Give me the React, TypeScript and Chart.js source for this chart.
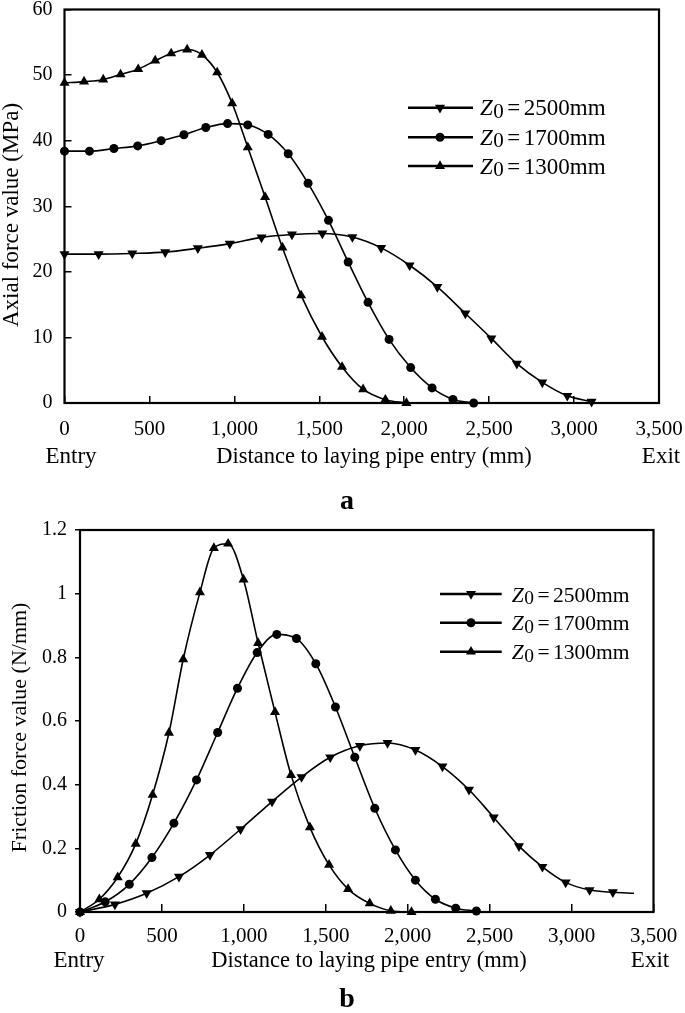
import React, { useEffect, useRef } from "react";
import { Chart, registerables } from "chart.js";

Chart.register(...registerables);

// ---------- shared axis data ----------
const xTicks = [0, 500, 1000, 1500, 2000, 2500, 3000, 3500];
const xTickLabels = ["0", "500", "1,000", "1,500", "2,000", "2,500", "3,000", "3,500"];
const xTitle = "Distance to laying pipe entry (mm)";
const xStartLabel = "Entry";
const xEndLabel = "Exit";
const seriesNames = ["2500mm", "1700mm", "1300mm"];

// ---------- panel a: axial force ----------
const yTicksA = [0, 10, 20, 30, 40, 50, 60];
const yTickLabelsA = ["0", "10", "20", "30", "40", "50", "60"];
const yTitleA = "Axial force value (MPa)";
const panelLabelA = "a";

const aX2500 = [0, 201, 399, 593, 785, 973, 1160, 1339, 1518, 1695, 1864, 2032, 2195, 2360, 2513, 2663, 2813, 2960, 3103];
const aY2500 = [22.7, 22.7, 22.8, 23.0, 23.6, 24.3, 25.25, 25.7, 25.85, 25.3, 23.65, 21.0, 17.7, 13.65, 9.85, 6.0, 3.15, 1.1, 0.2];

const aX1700 = [0, 147, 291, 431, 569, 703, 832, 960, 1079, 1199, 1317, 1434, 1554, 1670, 1787, 1911, 2038, 2164, 2287, 2409];
const aY1700 = [38.4, 38.4, 38.8, 39.2, 40.0, 40.9, 42.0, 42.6, 42.4, 40.95, 38.0, 33.5, 27.85, 21.5, 15.35, 9.7, 5.4, 2.3, 0.55, 0];

const aX1300 = [0, 115, 228, 330, 434, 534, 628, 722, 809, 899, 987, 1079, 1181, 1283, 1393, 1516, 1634, 1758, 1889, 2013];
const aY1300 = [48.8, 49.0, 49.3, 50.1, 50.9, 52.2, 53.3, 53.9, 53.1, 50.4, 45.7, 39.0, 31.4, 23.7, 16.4, 10.1, 5.5, 2.1, 0.5, 0];

// ---------- panel b: friction force ----------
const yTicksB = [0, 0.2, 0.4, 0.6, 0.8, 1, 1.2];
const yTickLabelsB = ["0", "0.2", "0.4", "0.6", "0.8", "1", "1.2"];
const yTitleB = "Friction force value (N/mm)";
const panelLabelB = "b";

const bX2500 = [0, 213, 407, 604, 793, 980, 1172, 1352, 1527, 1708, 1877, 2047, 2212, 2374, 2525, 2679, 2822, 2964, 3110, 3252, 3381];
const bY2500 = [0, 0.024, 0.059, 0.111, 0.179, 0.26, 0.347, 0.424, 0.486, 0.522, 0.531, 0.509, 0.457, 0.384, 0.297, 0.207, 0.142, 0.093, 0.069, 0.062, 0.059];

const bX1700 = [0, 154, 301, 439, 573, 711, 840, 961, 1081, 1201, 1321, 1439, 1559, 1677, 1799, 1925, 2047, 2169, 2293, 2419];
const bY1700 = [0, 0.032, 0.087, 0.171, 0.279, 0.415, 0.564, 0.703, 0.815, 0.872, 0.859, 0.78, 0.644, 0.486, 0.326, 0.195, 0.10, 0.04, 0.012, 0.003];

const bX1300 = [0, 118, 230, 340, 443, 543, 630, 732, 817, 904, 998, 1087, 1190, 1288, 1403, 1520, 1636, 1768, 1897, 2023];
const bY1300 = [0, 0.04, 0.109, 0.214, 0.368, 0.563, 0.794, 1.004, 1.143, 1.157, 1.044, 0.845, 0.628, 0.430, 0.266, 0.148, 0.072, 0.027, 0.004, 0];

const FONT = '"Liberation Serif", "Times New Roman", serif';
const INK = "#000";

type Mk = { style: string; rot: number; r: number };
const markers: Mk[] = [
  { style: "triangle", rot: 180, r: 5.8 },
  { style: "circle", rot: 0, r: 4.5 },
  { style: "triangle", rot: 0, r: 5.8 },
];

function drawMarker(ctx: CanvasRenderingContext2D, mk: Mk, x: number, y: number) {
  ctx.beginPath();
  if (mk.style === "circle") {
    ctx.arc(x, y, mk.r, 0, Math.PI * 2);
  } else {
    let rad = (mk.rot * Math.PI) / 180;
    for (let k = 0; k < 3; k++) {
      const px = x + Math.sin(rad) * mk.r;
      const py = y - Math.cos(rad) * mk.r;
      if (k === 0) ctx.moveTo(px, py);
      else ctx.lineTo(px, py);
      rad += (2 * Math.PI) / 3;
    }
    ctx.closePath();
  }
  ctx.fill();
}

function labelFor(values: number[], labels: string[], v: number) {
  const i = values.findIndex((t) => Math.abs(t - v) < 1e-6);
  return i >= 0 ? labels[i] : "";
}

type PanelSpec = {
  width: number;
  height: number;
  area: { left: number; top: number; right: number; bottom: number };
  yMax: number;
  yTicks: number[];
  yTickLabels: string[];
  yTickLen: number;
  yTickPad: number;
  xTickLen: number;
  xTickPad: number;
  series: { x: number[]; y: number[]; lastNoMarker?: boolean }[];
  yTitle: string;
  yTitleSize: number;
  yTitlePos: [number, number];
  rowBaseline: number;
  entryX: number;
  titleX: number;
  exitX: number;
  panelLabel: string;
  panelPos: [number, number];
  legend: { lineX1: number; lineX2: number; markX: number; textX: number; rows: number[]; size: number };
};

function buildChart(canvas: HTMLCanvasElement, spec: PanelSpec) {
  const datasets = spec.series.map((s, si) => {
    const mk = markers[si];
    return {
      label: seriesNames[si],
      data: s.x.map((x, i) => ({ x, y: s.y[i] })),
      borderColor: INK,
      backgroundColor: INK,
      borderWidth: 1.6,
      pointStyle: mk.style,
      pointRotation: mk.rot,
      pointRadius: s.x.map((_, i) => (s.lastNoMarker && i === s.x.length - 1 ? 0 : mk.r)),
      pointBorderWidth: 0,
      pointBackgroundColor: INK,
      cubicInterpolationMode: "monotone" as const,
      clip: false as any,
      fill: false,
    };
  });

  const a = spec.area;
  const annot = {
    id: "annot",
    beforeDatasetsDraw(chart: any) {
      const ctx = chart.ctx as CanvasRenderingContext2D;
      const ca = chart.chartArea;
      ctx.save();
      ctx.strokeStyle = INK;
      ctx.lineWidth = 2.2;
      ctx.strokeRect(ca.left, ca.top, ca.right - ca.left, ca.bottom - ca.top);
      ctx.restore();
    },
    afterDraw(chart: any) {
      const ctx = chart.ctx as CanvasRenderingContext2D;
      ctx.save();
      ctx.fillStyle = INK;
      ctx.strokeStyle = INK;
      // y title
      ctx.save();
      ctx.translate(spec.yTitlePos[0], spec.yTitlePos[1]);
      ctx.rotate(-Math.PI / 2);
      ctx.font = `${spec.yTitleSize}px ${FONT}`;
      ctx.textAlign = "center";
      ctx.textBaseline = "middle";
      ctx.fillText(spec.yTitle, 0, 0);
      ctx.restore();
      // bottom row
      ctx.textBaseline = "alphabetic";
      ctx.textAlign = "center";
      ctx.font = `23px ${FONT}`;
      ctx.fillText(xStartLabel, spec.entryX, spec.rowBaseline);
      ctx.fillText(xEndLabel, spec.exitX, spec.rowBaseline);
      ctx.font = `22.5px ${FONT}`;
      ctx.fillText(xTitle, spec.titleX, spec.rowBaseline);
      // panel label
      ctx.font = `bold 28px ${FONT}`;
      ctx.fillText(spec.panelLabel, spec.panelPos[0], spec.panelPos[1]);
      // legend
      const L = spec.legend;
      seriesNames.forEach((name, i) => {
        const y = L.rows[i];
        ctx.lineWidth = 2.6;
        ctx.beginPath();
        ctx.moveTo(L.lineX1, y);
        ctx.lineTo(L.lineX2, y);
        ctx.stroke();
        drawMarker(ctx, markers[i], L.markX, y);
        ctx.textAlign = "left";
        const base = y + 7.5;
        let x = L.textX;
        ctx.font = `italic ${L.size}px ${FONT}`;
        ctx.fillText("Z", x, base);
        x += ctx.measureText("Z").width + 0.5;
        ctx.font = `${L.size - 2}px ${FONT}`;
        ctx.fillText("0", x, base + 2.5);
        x += ctx.measureText("0").width + 3.5;
        ctx.font = `${L.size}px ${FONT}`;
        ctx.fillText("=", x, base);
        x += ctx.measureText("=").width + 3.5;
        ctx.fillText(name, x, base);
      });
      ctx.restore();
    },
  };

  return new Chart(canvas, {
    type: "line",
    data: { datasets: datasets as any },
    plugins: [annot as any],
    options: {
      responsive: false,
      animation: false,
      devicePixelRatio: 1,
      layout: { padding: { left: 0, top: a.top, right: spec.width - a.right, bottom: 0 } },
      plugins: { legend: { display: false }, tooltip: { enabled: false } },
      events: [],
      scales: {
        x: {
          type: "linear",
          min: 0,
          max: 3500,
          afterBuildTicks: (s: any) => {
            s.ticks = xTicks.map((v) => ({ value: v }));
          },
          afterFit: (s: any) => {
            s.height = spec.height - a.bottom;
            s.paddingLeft = 0;
            s.paddingRight = 0;
          },
          ticks: {
            callback: (v: any) => labelFor(xTicks, xTickLabels, Number(v)),
            font: { family: FONT, size: 21 },
            color: INK,
            padding: spec.xTickPad,
            maxRotation: 0,
            minRotation: 0,
            autoSkip: false,
          },
          grid: { drawOnChartArea: false, drawTicks: true, tickLength: spec.xTickLen, color: INK, lineWidth: 1.5 },
          border: { display: false },
        },
        y: {
          type: "linear",
          min: 0,
          max: spec.yMax,
          afterBuildTicks: (s: any) => {
            s.ticks = spec.yTicks.map((v) => ({ value: v }));
          },
          afterFit: (s: any) => {
            s.width = a.left;
            s.paddingTop = 0;
            s.paddingBottom = 0;
          },
          ticks: {
            callback: (v: any) => labelFor(spec.yTicks, spec.yTickLabels, Number(v)),
            font: { family: FONT, size: 20 },
            color: INK,
            padding: spec.yTickPad,
            autoSkip: false,
          },
          grid: { drawOnChartArea: false, drawTicks: true, tickLength: spec.yTickLen, color: INK, lineWidth: 1.5 },
          border: { display: false },
        },
      },
    } as any,
  });
}

const specA: PanelSpec = {
  width: 685,
  height: 520,
  area: { left: 64.5, top: 9.5, right: 659, bottom: 403 },
  yMax: 60,
  yTicks: yTicksA,
  yTickLabels: yTickLabelsA,
  yTickLen: -7,
  yTickPad: 19,
  xTickLen: -7,
  xTickPad: 21,
  series: [
    { x: aX2500, y: aY2500 },
    { x: aX1700, y: aY1700 },
    { x: aX1300, y: aY1300 },
  ],
  yTitle: yTitleA,
  yTitleSize: 23,
  yTitlePos: [12, 215],
  rowBaseline: 462.5,
  entryX: 71,
  titleX: 374,
  exitX: 661,
  panelLabel: panelLabelA,
  panelPos: [347, 509],
  legend: { lineX1: 408, lineX2: 473, markX: 440, textX: 480, rows: [107.7, 137.3, 166], size: 23 },
};

const specB: PanelSpec = {
  width: 685,
  height: 493,
  area: { left: 80, top: 10, right: 653.5, bottom: 392 },
  yMax: 1.2,
  yTicks: yTicksB,
  yTickLabels: yTickLabelsB,
  yTickLen: 5,
  yTickPad: 8,
  xTickLen: -8,
  xTickPad: 20,
  series: [
    { x: bX2500, y: bY2500, lastNoMarker: true },
    { x: bX1700, y: bY1700 },
    { x: bX1300, y: bY1300 },
  ],
  yTitle: yTitleB,
  yTitleSize: 22,
  yTitlePos: [20.5, 207.5],
  rowBaseline: 446.7,
  entryX: 79,
  titleX: 369,
  exitX: 650,
  panelLabel: panelLabelB,
  panelPos: [347, 486.7],
  legend: { lineX1: 440, lineX2: 501.7, markX: 471, textX: 511.7, rows: [74, 102.7, 131.7], size: 21.5 },
};

function Panel({ spec, top }: { spec: PanelSpec; top: number }) {
  const ref = useRef<HTMLCanvasElement | null>(null);
  useEffect(() => {
    if (!ref.current) return;
    const chart = buildChart(ref.current, spec);
    return () => chart.destroy();
  }, [spec]);
  return (
    <canvas
      ref={ref}
      width={spec.width}
      height={spec.height}
      style={{ position: "absolute", left: 0, top, width: spec.width, height: spec.height }}
    />
  );
}

export default function App() {
  return (
    <div style={{ position: "fixed", left: 0, top: 0, width: 685, height: 1013, background: "#fff", overflow: "hidden" }}>
      <Panel spec={specA} top={0} />
      <Panel spec={specB} top={520} />
    </div>
  );
}
